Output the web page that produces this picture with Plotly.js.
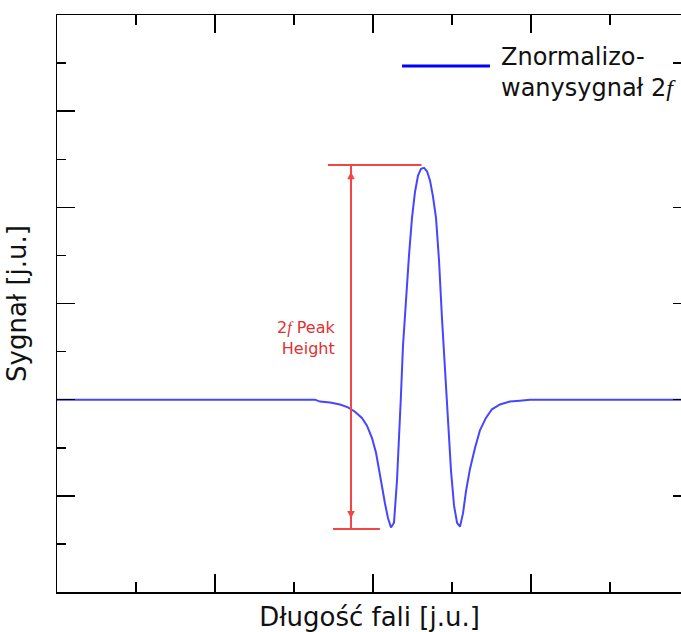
<!DOCTYPE html>
<html>
<head>
<meta charset="utf-8">
<script src="https://cdn.plot.ly/plotly-3.0.1.min.js"></script>
<style>
  html, body { margin: 0; padding: 0; overflow: hidden; background: #fff; }
  #chart { width: 700px; height: 660px; }
</style>
</head>
<body>
<div id="chart"></div>
<script>
// wavelength [a.u.]
const wavelength = [0, 1.538, 1.633, 1.665, 1.728, 1.791, 1.842, 1.886, 1.930, 1.962, 1.994, 2.019, 2.038, 2.057, 2.076, 2.095, 2.114, 2.133, 2.152, 2.165, 2.177, 2.190, 2.209, 2.228, 2.247, 2.266, 2.285, 2.304, 2.323, 2.342, 2.361, 2.380, 2.399, 2.418, 2.437, 2.456, 2.475, 2.494, 2.513, 2.532, 2.551, 2.570, 2.589, 2.614, 2.646, 2.677, 2.715, 2.753, 2.804, 2.867, 2.930, 2.994, 3.956];
// normalized 2f signal [a.u.]
const signal2f = [0, 0, 0, -0.02, -0.03, -0.05, -0.08, -0.125, -0.19, -0.27, -0.40, -0.55, -0.71, -0.90, -1.08, -1.23, -1.33, -1.28, -0.84, -0.43, 0.04, 0.56, 1.08, 1.50, 1.89, 2.16, 2.33, 2.40, 2.41, 2.375, 2.28, 2.11, 1.89, 1.45, 0.84, 0.28, -0.30, -0.74, -1.10, -1.28, -1.32, -1.18, -0.95, -0.72, -0.50, -0.32, -0.19, -0.10, -0.05, -0.02, -0.01, 0, 0];

// peak-height marker
const peakLevels = [2.44, -1.345];          // top, bottom
const peakTopSpan = [1.715, 2.307];
const peakBottomSpan = [1.747, 2.044];
const peakMarkerX = [1.861];
const peakArrowEnds = [2.37, -1.25];

const xRange = [0, 3.956];
const yRange = [-2, 4];
const rightTickVals = [3.5, 2, 1, 0, -1];

const serifF = "<span style=\"font-family:'Liberation Serif', serif\"><i>f</i></span>";
const legendText = "Znormalizo-<br>wanysygnał 2" + serifF;
const peakText = "2" + serifF + " Peak<br>Height";
const xTitle = "Długość fali [j.u.]";
const yTitle = "Sygnał [j.u.]";

const red = "rgb(240,70,70)";

const traces = [
  {
    x: wavelength, y: signal2f, type: "scatter", mode: "lines",
    name: "Znormalizowany sygnał 2f",
    line: { color: "rgb(70,70,255)", width: 2 },
    showlegend: false, hoverinfo: "skip"
  },
  { x: [], y: [], yaxis: "y2", type: "scatter", showlegend: false, hoverinfo: "skip" }
];

const layout = {
  width: 700, height: 660,
  margin: { l: 57, r: 18, t: 15, b: 68 },
  paper_bgcolor: "#fff", plot_bgcolor: "#fff",
  font: { family: "DejaVu Sans, Verdana, sans-serif", color: "#111" },
  showlegend: false,
  xaxis: {
    range: xRange, showgrid: false, zeroline: false,
    showline: true, linecolor: "#000", linewidth: 1.5, mirror: "ticks",
    ticks: "inside", tick0: 0, dtick: 1, ticklen: 18, tickwidth: 1.5, tickcolor: "#000",
    minor: { ticks: "inside", dtick: 0.5, tick0: 0, ticklen: 10, tickwidth: 1.5, tickcolor: "#000" },
    showticklabels: false,
    title: { text: xTitle, font: { size: 26, color: "#111" }, standoff: 15 }
  },
  yaxis: {
    range: yRange, showgrid: false, zeroline: false,
    showline: true, linecolor: "#000", linewidth: 1.5, mirror: true,
    ticks: "inside", tick0: 0, dtick: 1, ticklen: 18, tickwidth: 1.5, tickcolor: "#000",
    minor: { ticks: "inside", dtick: 0.5, tick0: 0, ticklen: 9, tickwidth: 1.5, tickcolor: "#000" },
    showticklabels: false,
    title: { text: yTitle, font: { size: 26, color: "#111" }, standoff: 21 }
  },
  yaxis2: {
    overlaying: "y", side: "right", anchor: "x", range: yRange,
    showgrid: false, zeroline: false, showline: false, showticklabels: false,
    tickmode: "array", tickvals: rightTickVals, ticks: "inside", ticklen: 9, tickwidth: 1.5, tickcolor: "#000"
  },
  shapes: [
    { type: "line", xref: "x", yref: "y", x0: peakTopSpan[0], x1: peakTopSpan[1], y0: peakLevels[0], y1: peakLevels[0], line: { color: red, width: 2 } },
    { type: "line", xref: "x", yref: "y", x0: peakBottomSpan[0], x1: peakBottomSpan[1], y0: peakLevels[1], y1: peakLevels[1], line: { color: red, width: 2 } },
    { type: "line", xref: "x", yref: "y", x0: peakMarkerX[0], x1: peakMarkerX[0], y0: peakLevels[0], y1: peakLevels[1], line: { color: red, width: 2 } },
    { type: "line", xref: "paper", yref: "paper", x0: 0.552, x1: 0.6928, y0: 0.9116, y1: 0.9116, line: { color: "#0000ff", width: 3 } }
  ],
  annotations: [
    { xref: "x", yref: "y", x: peakMarkerX[0], y: peakArrowEnds[0], axref: "x", ayref: "y", ax: peakMarkerX[0], ay: peakArrowEnds[1],
      text: "", showarrow: true, arrowside: "end+start", arrowhead: 2, startarrowhead: 2, arrowsize: 1, startarrowsize: 1, arrowwidth: 1.5, arrowcolor: red },
    { xref: "x", yref: "y", x: 1.775, y: 0.64, xanchor: "right", yanchor: "middle", align: "right",
      text: peakText, showarrow: false, font: { size: 16, color: "rgb(220,50,50)" } },
    { xref: "paper", yref: "paper", x: 0.7075, y: 0.9, xanchor: "left", yanchor: "middle", align: "left",
      text: legendText, showarrow: false, font: { size: 24, color: "#111" } }
  ]
};

Plotly.newPlot("chart", traces, layout, { displayModeBar: false, staticPlot: true });
</script>
</body>
</html>
